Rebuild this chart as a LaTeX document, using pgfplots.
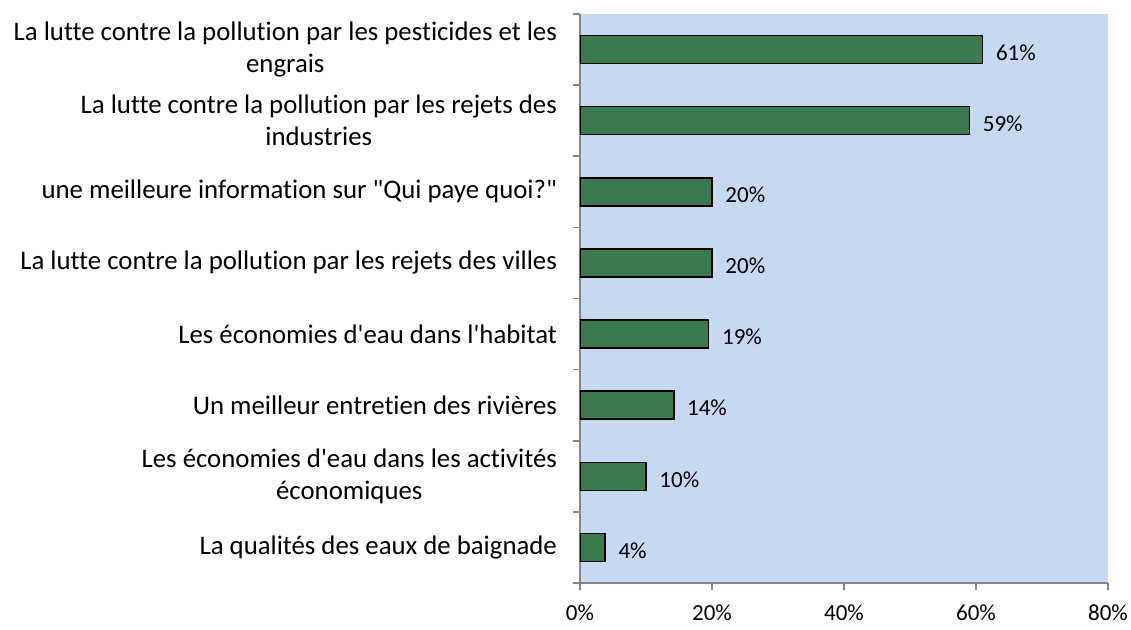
\documentclass[border=0pt]{standalone}
\usepackage{fontspec}
\setmainfont{Carlito}[Ligatures={TeXOff,CommonOff}]
\usepackage{pgfplots}
\pgfplotsset{compat=1.18}
\usepackage{pgfplotstable}
\definecolor{bgblue}{RGB}{198,217,240}
\definecolor{bargreen}{RGB}{59,121,80}
\definecolor{axgray}{RGB}{134,134,134}
\pgfplotstableread{
y x lab
7 61 61
6 59 59
5 20 20
4 20 20
3 19.5 19
2 14.2 14
1 10 10
0 3.8 4
}\datatable
\begin{document}
\begin{tikzpicture}
\begin{axis}[
  at={(0,0)}, anchor=south west,
  scale only axis, width=264pt, height=284.5pt,
  xbar, bar width=14pt,
  xmin=0, xmax=80, ymin=-0.5, ymax=7.5,
  axis background/.style={fill=bgblue},
  axis x line*=bottom, axis y line*=left,
  axis line style={axgray, line width=0.8pt},
  tick align=outside,
  xtick={0,20,...,80},
  xticklabel={\pgfmathprintnumber{\tick}\%},
  /pgf/number format/assume math mode=true,
  xticklabel style={font=\fontsize{11.5}{13}\selectfont, yshift=-4pt},
  major tick length=3.5pt, minor tick length=3.5pt,
  tick style={axgray, line width=0.8pt},
  ytick={0,...,7},
  minor ytick={-0.5,0.5,...,7.5},
  major y tick style={draw=none},
  yticklabels={
    La qualités des eaux de baignade,
    {Les économies d'eau dans les activités\\économiques},
    Un meilleur entretien des rivières,
    Les économies d'eau dans l'habitat,
    La lutte contre la pollution par les rejets des villes,
    une meilleure information sur "Qui paye quoi?",
    {La lutte contre la pollution par les rejets des\\industries},
    {La lutte contre la pollution par les pesticides et les\\engrais}
  },
  yticklabel style={align=center, font=\fontsize{13.4}{16}\selectfont, xshift=-4.5pt},
  point meta=explicit,
  nodes near coords={\pgfmathprintnumber{\pgfplotspointmeta}\%},
  nodes near coords style={anchor=west, font=\fontsize{11.5}{13}\selectfont, xshift=3pt, yshift=-1.5pt, black},
]
\addplot[fill=bargreen, draw=black, line width=0.8pt] table[x=x, y=y, meta=lab] {\datatable};
\end{axis}
\pgfresetboundingbox
\path (-290pt,-23pt) rectangle (275.5pt,291.5pt);
\end{tikzpicture}
\end{document}
